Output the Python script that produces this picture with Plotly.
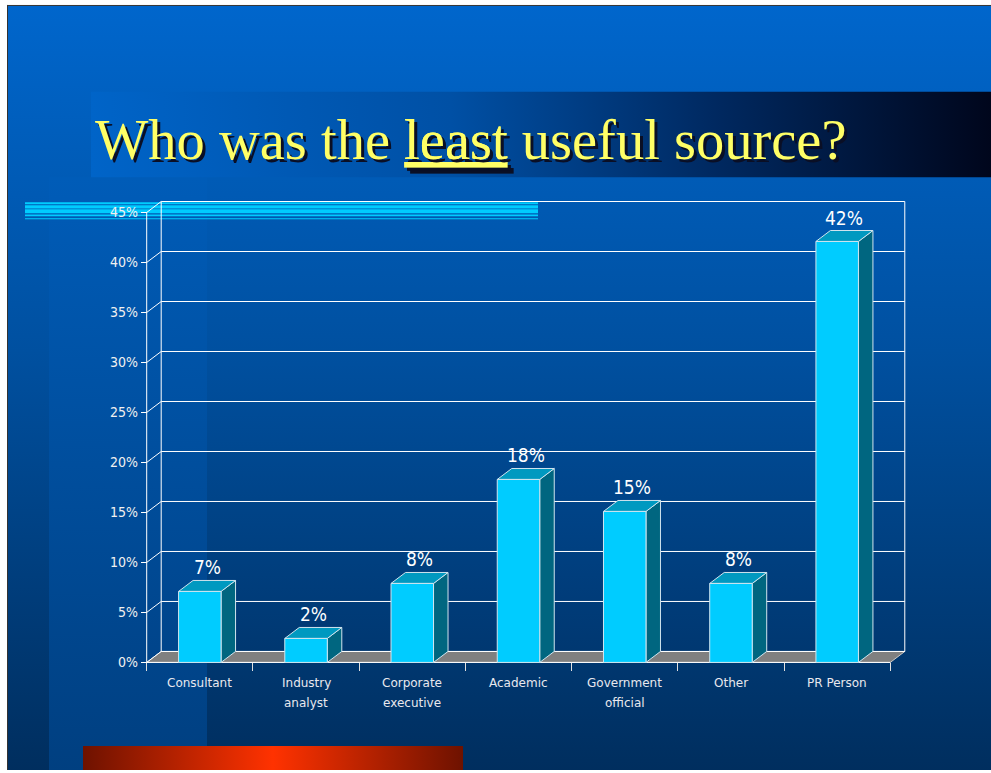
import plotly.graph_objects as go

# ---------------- data ----------------
categories = ["Consultant", "Industry<br>analyst", "Corporate<br>executive", "Academic",
              "Government<br>official", "Other", "PR Person"]
values = [7.1, 2.4, 7.9, 18.3, 15.1, 7.9, 42.1]
y_ticks = [0, 5, 10, 15, 20, 25, 30, 35, 40, 45]
y_tick_labels = [f"{t}%" for t in y_ticks]
title_text = "Who was the <u>least</u> useful source?"

W, H = 991, 773

# ---------------- geometry (pixels) ----------------
ax_left, ax_right_front = 146.7, 890.3   # front x axis
ax_bottom, ax_top_front = 665.0, 213.3   # front y axis (0 .. 45)
depth_px_x, depth_px_y = 14.5, 11.0
n = len(categories)
ymax = max(y_ticks)
px_per_x = (ax_right_front - ax_left) / n
px_per_y = (ax_bottom - ax_top_front) / ymax
dx = depth_px_x / px_per_x
dY = depth_px_y / px_per_y

padx, pady = 0.06, 0.5
xr = [-padx, n + dx + padx]
yr = [-pady, ymax + dY + pady]
x_dom = [(ax_left - padx * px_per_x) / W, (ax_left + (n + dx + padx) * px_per_x) / W]
y_dom = [1 - (ax_bottom + pady * px_per_y) / H, 1 - (ax_bottom - (ymax + dY + pady) * px_per_y) / H]

fig = go.Figure()


def P(y):  # pixel y -> background axis coordinate
    return H - y


def rect(x0, y0, x1, y1, color=None, grad=None):
    xs = [x0, x1, x1, x0, x0]
    ys = [P(y0), P(y0), P(y1), P(y1), P(y0)]
    kw = dict(x=xs, y=ys, mode="lines", line=dict(width=0), fill="toself",
              hoverinfo="skip", showlegend=False, xaxis="x", yaxis="y")
    if grad is not None:
        kw["fillgradient"] = grad
    else:
        kw["fillcolor"] = color
    fig.add_trace(go.Scatter(**kw))


# ---------------- slide background ----------------
rect(8, 6, W, H, grad=dict(type="vertical", start=P(H), stop=P(6),
                           colorscale=[[0, "rgb(0,46,94)"], [0.55, "rgb(0,80,160)"], [1, "rgb(0,102,204)"]]))
# left lighter band
rect(49, 178, 207, H, grad=dict(type="vertical", start=P(H), stop=P(178),
                                colorscale=[[0, "rgb(0,63,128)"], [1, "rgb(0,92,184)"]]))
# title band
rect(91, 92, W, 178, grad=dict(type="horizontal", start=91, stop=W,
                               colorscale=[[0, "rgb(0,100,200)"], [0.4, "rgb(0,80,165)"],
                                           [0.7, "rgb(0,40,95)"], [1, "rgb(0,6,28)"]]))
# cyan stripes
for (a, b) in [(203, 205), (206, 209.3), (210, 214), (215.3, 217), (219, 220)]:
    rect(25, a, 538, b, color="#00CCFF")
# red bar
rect(83, 749, 463, H, grad=dict(type="horizontal", start=83, stop=463,
                                colorscale=[[0, "rgb(110,18,0)"], [0.5, "rgb(255,50,0)"], [1, "rgb(110,18,0)"]]))
# slide border lines
fig.add_trace(go.Scatter(x=[7.5, 7.5, None, 7, W], y=[P(5), P(H), None, P(5.5), P(5.5)], mode="lines",
                         line=dict(color="#333333", width=1), hoverinfo="skip", showlegend=False))


# ---------------- chart (data coordinates) ----------------
def poly(xs, ys, fill, line_color, lw=1):
    fig.add_trace(go.Scatter(x=list(xs) + [xs[0]], y=list(ys) + [ys[0]], mode="lines", fill="toself",
                             fillcolor=fill, line=dict(color=line_color, width=lw),
                             hoverinfo="skip", showlegend=False, xaxis="x2", yaxis="y2"))


def lines(xs, ys, color, lw=1):
    fig.add_trace(go.Scatter(x=xs, y=ys, mode="lines", line=dict(color=color, width=lw),
                             hoverinfo="skip", showlegend=False, xaxis="x2", yaxis="y2"))


# floor
poly([0, n, n + dx, dx], [0, 0, dY, dY], "#808080", "#C8C8C8")
# grid lines (side wall diagonal + back wall)
gx, gy = [], []
for v in y_ticks:
    gx += [0, dx, n + dx, None]
    gy += [v, v + dY, v + dY, None]
gx += [dx, dx, None, n + dx, n + dx, None, 0, 0, None, 0, n]
gy += [dY, ymax + dY, None, dY, ymax + dY, None, 0, ymax, None, 0, 0]
lines(gx, gy, "#FFFFFF")

# bars
front_c, side_c, top_c, edge_c = "#00CCFF", "#006680", "#0099C0", "#D0E4EE"
bw = 0.4
for i, v in enumerate(values):
    c = i + 0.5
    x0, x1 = c - bw / 2, c + bw / 2
    poly([x1, x1 + dx, x1 + dx, x1], [0, dY, v + dY, v], side_c, edge_c)
    poly([x0, x1, x1 + dx, x0 + dx], [v, v, v + dY, v + dY], top_c, edge_c)
    poly([x0, x1, x1, x0], [0, 0, v, v], front_c, edge_c)

annotations = []
for i, v in enumerate(values):
    annotations.append(dict(x=i + 0.5 + dx / 2, y=v + dY, xref="x2", yref="y2", text=f"{round(v)}%",
                            showarrow=False, yanchor="bottom", yshift=0,
                            font=dict(family="DejaVu Sans Condensed, DejaVu Sans", size=19,
                                      color="#FFFFFF", weight=500)))
    for k, part in enumerate(categories[i].split("<br>")):
        annotations.append(dict(x=i + 0.5, y=P(686 + 20 * k), xref="x2", yref="y", text=part,
                                showarrow=False, yanchor="middle",
                                font=dict(family="DejaVu Sans", size=12, color="#E8E8EE")))

# title with shadow
annotations.append(dict(x=93, y=P(141), xref="x", yref="y", text=title_text, showarrow=False,
                        xanchor="left", yanchor="middle",
                        font=dict(family="Liberation Serif", size=56.5, color="#FFFF66",
                                  shadow="3px 3px 0px #0A0F25")))

fig.update_layout(
    width=W, height=H, margin=dict(l=0, r=0, t=0, b=0),
    paper_bgcolor="#FFFFFF", plot_bgcolor="rgba(0,0,0,0)", showlegend=False,
    xaxis=dict(domain=[0, 1], range=[0, W], visible=False, fixedrange=True),
    yaxis=dict(domain=[0, 1], range=[0, H], visible=False, fixedrange=True),
    xaxis2=dict(domain=x_dom, range=xr, anchor="free", position=1 - ax_bottom / H,
                tickmode="array", tickvals=list(range(n + 1)), ticks="outside", ticklen=8,
                tickcolor="#E0E0E0", showticklabels=False, showgrid=False, zeroline=False,
                showline=False, fixedrange=True),
    yaxis2=dict(domain=y_dom, range=yr, anchor="free", position=ax_left / W,
                tickmode="array", tickvals=y_ticks, ticktext=y_tick_labels, ticks="outside", ticklen=6,
                tickcolor="#FFFFFF",
                tickfont=dict(family="DejaVu Sans Condensed, DejaVu Sans", size=14, color="#F0F0F0"),
                showgrid=False, zeroline=False, showline=False, fixedrange=True),
    annotations=annotations,
)

fig.write_html("out.html")
